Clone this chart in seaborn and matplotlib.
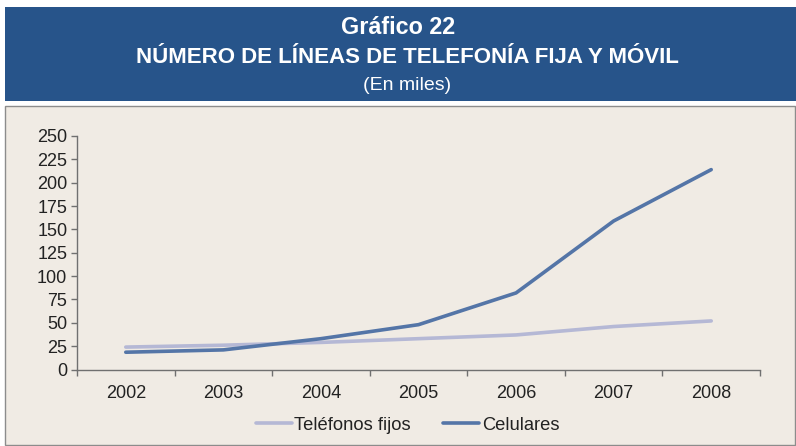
import matplotlib
matplotlib.use("Agg")
import matplotlib.pyplot as plt
from matplotlib.patches import Rectangle
import seaborn as sns
import pandas as pd

years = ["2002", "2003", "2004", "2005", "2006", "2007", "2008"]
fijos = [24, 26, 29, 33, 37, 46, 52]
celulares = [18.5, 21, 33, 48, 82, 159, 214]
series_names = ["Teléfonos fijos", "Celulares"]
yticks = [0, 25, 50, 75, 100, 125, 150, 175, 200, 225, 250]

df = pd.DataFrame({
    "year": years * 2,
    "value": fijos + celulares,
    "serie": [series_names[0]] * len(years) + [series_names[1]] * len(years),
})

sns.set_style("white")
plt.rcParams["font.family"] = ["Liberation Sans", "DejaVu Sans"]

bg = "#f0ebe4"
fig = plt.figure(figsize=(7.96, 4.46), dpi=100)
fig.patch.set_facecolor("white")

# header box
fig.patches.append(Rectangle((5/796, 1-101/446), 791/796, 94/446, transform=fig.transFigure,
                             facecolor="#27548a", edgecolor="none", zorder=0))
# panel
fig.patches.append(Rectangle((5/796, 0.002), 790/796, 1-106/446-0.002, transform=fig.transFigure,
                             facecolor=bg, edgecolor="#8c8c8c", linewidth=1.0, zorder=0))

fig.text(0.5, 1-27/446, "Gráfico 22", color="white", fontsize=16.8, fontweight="bold",
         ha="center", va="center")
fig.text(0.512, 1-58/446, "NÚMERO DE LÍNEAS DE TELEFONÍA FIJA Y MÓVIL", color="white",
         fontsize=16, fontweight="bold", ha="center", va="center")
fig.text(0.511, 1-85/446, "(En miles)", color="white", fontsize=14, ha="center", va="center")

ax = fig.add_axes([77/796, 1-369.5/446, (760-77)/796, (369.5-136)/446])
ax.set_zorder(3)
ax.set_facecolor(bg)
palette = {series_names[0]: "#b5b8d5", series_names[1]: "#5475a7"}
sns.lineplot(data=df, x="year", y="value", hue="serie", palette=palette, linewidth=2.6,
             ax=ax, sort=False, legend=True, solid_capstyle="round")

ax.set_xlim(-0.5, 6.5)
ax.set_ylim(0, 250)
ax.set_yticks(yticks)
ax.set_xticks(range(len(years)))
ax.set_xticklabels(years)
ax.set_xticks([i - 0.5 for i in range(len(years) + 1)], minor=True)
ax.tick_params(axis="x", which="major", bottom=True, length=0, pad=11, labelsize=13, labelcolor="#222222")
ax.tick_params(axis="x", which="minor", bottom=True, length=4, color="#707070", width=1)
ax.tick_params(axis="y", which="major", left=True, length=4, color="#707070", width=1,
               labelsize=13, labelcolor="#222222", pad=3)
for s in ["top", "right"]:
    ax.spines[s].set_visible(False)
for s in ["left", "bottom"]:
    ax.spines[s].set_color("#707070")
    ax.spines[s].set_linewidth(1)
ax.set_xlabel("")
ax.set_ylabel("")

handles, labels = ax.get_legend_handles_labels()
ax.legend(handles, labels, loc="center", bbox_to_anchor=(0.484, -0.238), ncol=2, frameon=False,
          fontsize=13.2, handlelength=1.95, columnspacing=1.75, handletextpad=0.15,
          labelcolor="#222222")

fig.savefig("out.png", dpi=100, facecolor=fig.get_facecolor())
